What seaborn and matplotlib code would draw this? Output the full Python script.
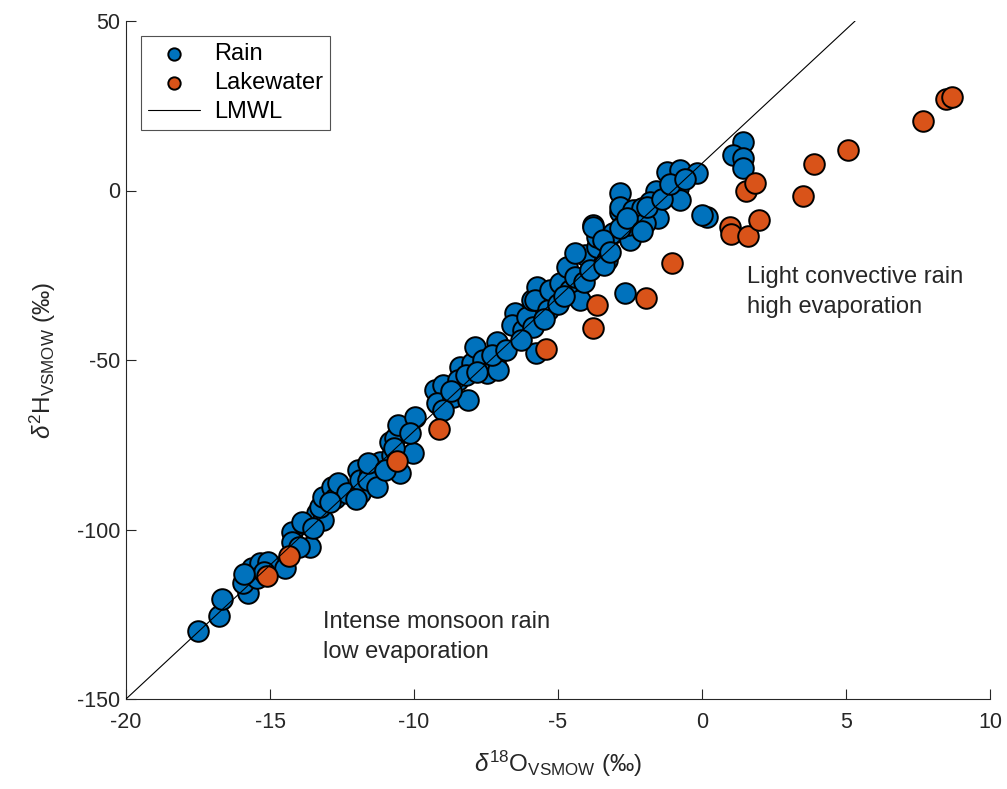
import matplotlib
matplotlib.use("Agg")
import matplotlib.pyplot as plt
import seaborn as sns
import numpy as np
import pandas as pd

# ---------------- data ----------------
rain_d18O = [
    -17.49, -16.76, -16.68, -15.75, -15.93, -15.64, -15.35, -15.06, -15.46, -14.48,
    -14.25, -14.25, -13.61, -14.00, -13.84, -13.38, -13.15, -13.26, -13.90,
    -13.15, -12.86, -12.74, -12.63, -12.34, -11.88, -11.93, -11.88, -11.53, -11.59,
    -11.30, -11.18, -10.78, -10.83, -10.66, -10.49, -10.55, -10.02, -9.97, -10.14,
    -9.27, -8.98, -9.21, -8.64, -8.11, -8.40, -8.46, -8.00, -7.88, -7.59,
    -7.48, -7.13, -7.19, -7.07, -6.49, -6.61, -6.20, -6.09, -5.91, -5.86,
    -5.74, -5.75, -5.80, -5.34, -5.28, -4.93, -4.58, -4.24, -4.70, -4.41,
    -4.06, -3.66, -3.31, -3.78, -3.66, -3.37, -3.08, -2.85, -2.73, -2.50,
    -2.67, -2.27, -2.85, -2.85, -2.38, -2.10, -1.58, -1.81, -1.23, -0.76,
    -0.19, -0.82, -0.76, -1.52, -1.98, -2.56, -3.78, -3.43, -2.85, -4.41,
    0.16, -0.01, 1.44, 1.09, 1.44, 1.44,
    -9.00, -8.70, -8.20, -7.80, -7.30, -6.80, -6.30, -5.50, -5.00, -4.80,
    -4.10, -3.90, -3.40, -3.20, -2.60, -2.10, -1.90, -1.40, -1.10, -0.60,
    -12.00, -12.90, -11.60, -11.00, -10.70, -13.50, -15.20, -15.90,
]
rain_d2H = [
    -129.9, -125.5, -120.6, -118.8, -115.7, -111.5, -110.0, -109.5, -114.4, -111.5,
    -100.6, -103.6, -105.1, -105.1, -98.2, -95.2, -97.2, -93.3, -97.7,
    -90.3, -87.4, -90.8, -86.4, -89.3, -89.3, -82.4, -85.4, -83.4, -85.4,
    -87.4, -80.0, -78.0, -74.1, -73.1, -83.4, -69.2, -77.5, -66.7, -71.6,
    -58.8, -57.4, -62.8, -60.8, -61.8, -52.0, -55.9, -51.0, -46.1, -50.0,
    -53.9, -44.6, -51.0, -52.9, -36.2, -39.7, -41.2, -37.2, -32.3, -40.2,
    -28.4, -47.8, -32.3, -35.2, -29.4, -27.4, -29.4, -32.3, -22.5, -25.4,
    -19.0, -16.6, -20.5, -10.2, -13.6, -14.6, -12.6, -6.3, -10.2, -14.6,
    -30.3, -5.8, -0.8, -4.8, -5.8, -5.2, -0.1, -3.3, 5.5, 6.1,
    5.1, 0.6, -2.8, -8.2, -9.7, -10.2, -10.7, -14.6, -11.2, -18.5,
    -7.7, -7.2, 14.4, 10.5, 9.5, 6.5,
    -64.8, -59.0, -54.5, -53.5, -48.5, -47.0, -44.0, -38.0, -33.5, -31.0,
    -27.0, -23.5, -22.0, -18.0, -8.0, -11.8, -5.0, -2.5, 2.0, 3.5,
    -91.0, -92.0, -80.5, -82.5, -76.0, -99.5, -112.5, -113.0,
]

lake_d18O = [-15.11, -14.35, -10.59, -9.12, -5.42, -3.78, -3.65, -1.94, -1.04,
             0.97, 0.99, 1.61, 1.98, 1.52, 1.83, 3.50, 3.90, 5.08, 7.66, 8.46, 8.67]
lake_d2H = [-113.6, -107.7, -79.8, -70.4, -46.8, -40.6, -33.8, -31.7, -21.4,
            -10.7, -12.7, -13.4, -8.6, -0.15, 2.2, -1.5, 7.7, 11.9, 20.6, 26.9, 27.7]

# Local meteoric water line: d2H = slope * d18O + intercept
lmwl_slope = 7.9
lmwl_intercept = 8.0

xticks = [-20, -15, -10, -5, 0, 5, 10]
yticks = [-150, -100, -50, 0, 50]

# ---------------- style ----------------
sns.set_theme(style="white")
plt.rcParams['font.family'] = ['Liberation Sans', 'DejaVu Sans']
plt.rcParams['mathtext.fontset'] = 'custom'
plt.rcParams['mathtext.rm'] = 'Liberation Sans'
plt.rcParams['mathtext.it'] = 'Liberation Sans:italic'
plt.rcParams['mathtext.bf'] = 'Liberation Sans:bold'

blue = '#0072BD'
orange = '#D95319'
txt = '#262626'

fig = plt.figure(figsize=(10.07, 7.89), dpi=100)
ax = fig.add_axes([126/1007, 1 - 699/789, (990-126)/1007, (699-21)/789])

rain_df = pd.DataFrame({'x': rain_d18O, 'y': rain_d2H})
lake_df = pd.DataFrame({'x': lake_d18O, 'y': lake_d2H})

sns.scatterplot(data=rain_df, x='x', y='y', ax=ax, s=220, color=blue,
                edgecolor='black', linewidth=1.4, label='Rain', zorder=2)
sns.scatterplot(data=lake_df, x='x', y='y', ax=ax, s=220, color=orange,
                edgecolor='black', linewidth=1.4, label='Lakewater', zorder=2.5)

x_end = (50 - lmwl_intercept) / lmwl_slope
lx = np.array([-20, x_end])
line_df = pd.DataFrame({'x': lx, 'y': lmwl_slope * lx + lmwl_intercept})
sns.lineplot(data=line_df, x='x', y='y', ax=ax, color='black', linewidth=0.8,
             label='LMWL', zorder=3)

ax.set_xlim(-20, 10)
ax.set_ylim(-150, 50)
ax.set_xticks(xticks)
ax.set_yticks(yticks)
ax.set_xticklabels([str(t) for t in xticks])
ax.set_yticklabels([str(t) for t in yticks])

for side in ['top', 'right']:
    ax.spines[side].set_visible(False)
for side in ['left', 'bottom']:
    ax.spines[side].set_color(txt)
    ax.spines[side].set_linewidth(0.8)
ax.tick_params(direction='in', length=7, width=0.8, colors=txt, labelsize=15.5,
               left=True, bottom=True)
ax.tick_params(axis='x', pad=9)
ax.tick_params(axis='y', pad=4)

ax.set_xlabel(r'$\delta^{18}\mathrm{O}_{\mathrm{VSMOW}}$ (‰)', fontsize=17.5, color=txt, labelpad=12)
ax.set_ylabel(r'$\delta^{2}\mathrm{H}_{\mathrm{VSMOW}}$ (‰)', fontsize=17.5, color=txt, labelpad=14)

ax.text(1.55, -22.3, 'Light convective rain\nhigh evaporation', fontsize=17,
        color=txt, va='top', ha='left', linespacing=1.45)
ax.text(-13.15, -124.0, 'Intense monsoon rain\nlow evaporation', fontsize=17,
        color=txt, va='top', ha='left', linespacing=1.45)

handles, labels = ax.get_legend_handles_labels()
leg = ax.legend(handles, labels, loc='upper left', bbox_to_anchor=(0.017, 0.978),
                fontsize=17, frameon=True, fancybox=False, borderpad=0.3,
                handlelength=2.2, handletextpad=0.6, labelspacing=0.3,
                markerscale=0.6, borderaxespad=0)
leg.get_frame().set_edgecolor(txt)
leg.get_frame().set_linewidth(0.8)
for t in leg.get_texts():
    t.set_color('black')

fig.savefig('out.png', dpi=100, facecolor='white')
